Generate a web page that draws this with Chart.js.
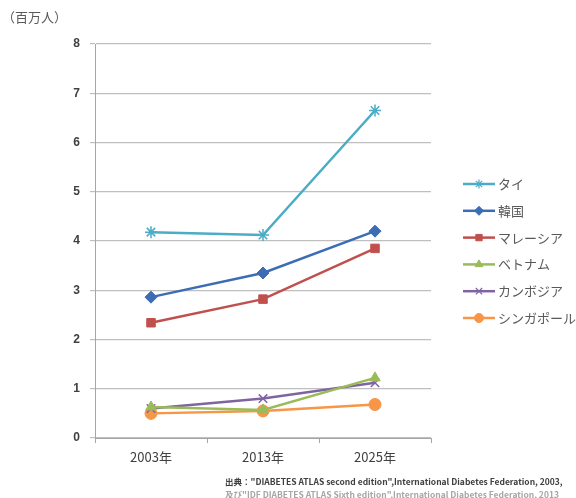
<!DOCTYPE html>
<html>
<head>
<meta charset="utf-8">
<script src="https://cdn.jsdelivr.net/npm/chart.js@4"></script>
<style>
  html, body { margin: 0; padding: 0; background: #fff; }
  #wrap { width: 576px; height: 498px; }
</style>
</head>
<body>
<div id="wrap"><canvas id="chart" width="576" height="498"></canvas></div>
<script>
const years = ['2003年', '2013年', '2025年'];
const yTicks = [0, 1, 2, 3, 4, 5, 6, 7, 8];

const thai = [4.18, 4.12, 6.65];
const korea = [2.86, 3.35, 4.2];
const malaysia = [2.34, 2.82, 3.85];
const vietnam = [0.63, 0.57, 1.22];
const cambodia = [0.6, 0.8, 1.12];
const singapore = [0.5, 0.55, 0.68];

const unitLabel = '（百万人）';
const sourceLines = [
  '出典："DIABETES ATLAS second edition",International Diabetes Federation, 2003,',
  '及び"IDF DIABETES ATLAS Sixth edition",International Diabetes Federation, 2013'
];

const JP = '"Noto Sans CJK JP", "Noto Sans", sans-serif';

const series = [
  { label: 'タイ', data: thai, color: '#4BACC6', style: 'star' },
  { label: '韓国', data: korea, color: '#3C6DB4', style: 'rectRot' },
  { label: 'マレーシア', data: malaysia, color: '#C0504D', style: 'rect' },
  { label: 'ベトナム', data: vietnam, color: '#9BBB59', style: 'triangle' },
  { label: 'カンボジア', data: cambodia, color: '#8064A2', style: 'crossRot' },
  { label: 'シンガポール', data: singapore, color: '#F79646', style: 'circle' }
];

const thinStyles = ['star', 'crossRot'];

// legend (line + marker sample), unit label and source note
const extras = {
  id: 'extras',
  beforeDraw(chart) {
    const ctx = chart.ctx;
    ctx.save();
    ctx.fillStyle = '#fff';
    ctx.fillRect(0, 0, chart.width, chart.height);
    ctx.restore();
  },
  afterDraw(chart) {
    const ctx = chart.ctx;
    ctx.save();
    ctx.textBaseline = 'middle';
    ctx.textAlign = 'left';
    ctx.font = '13px ' + JP;
    ctx.fillStyle = '#595959';
    ctx.fillText(unitLabel, 2, 17);

    chart.data.datasets.forEach((ds, i) => {
      const y = 184 + i * 26.8;
      ctx.strokeStyle = ds.borderColor;
      ctx.fillStyle = ds.borderColor;
      ctx.lineWidth = 2.5;
      ctx.beginPath();
      ctx.moveTo(463, y);
      ctx.lineTo(495, y);
      ctx.stroke();
      const thin = thinStyles.includes(ds.pointStyle);
      ctx.lineWidth = thin ? 1.2 : 1;
      Chart.helpers.drawPoint(ctx, {
        pointStyle: ds.pointStyle,
        rotation: 0,
        borderWidth: ctx.lineWidth,
        radius: 4.5
      }, 479, y);
      ctx.fillStyle = '#595959';
      ctx.font = '13px ' + JP;
      ctx.fillText(ds.label, 498, y);
    });

    ctx.font = '600 8.5px ' + JP;
    ctx.fillStyle = '#404040';
    ctx.fillText(sourceLines[0], 225, 482, 345);
    ctx.fillStyle = '#A6A6A6';
    ctx.fillText(sourceLines[1], 225, 495, 345);
    ctx.restore();
  }
};

const ctx = document.getElementById('chart').getContext('2d');
new Chart(ctx, {
  type: 'line',
  data: {
    labels: years,
    datasets: series.map(s => ({
      label: s.label,
      data: s.data,
      borderColor: s.color,
      backgroundColor: s.color,
      pointStyle: s.style,
      pointRadius: 6,
      pointHoverRadius: 6,
      pointBorderWidth: thinStyles.includes(s.style) ? 1.5 : 1,
      borderWidth: 2.5,
      tension: 0
    }))
  },
  options: {
    responsive: false,
    animation: false,
    events: [],
    layout: { padding: { left: 0, right: 145, top: 44, bottom: 0 } },
    plugins: {
      legend: { display: false },
      tooltip: { enabled: false }
    },
    scales: {
      x: {
        offset: true,
        grid: {
          offset: true,
          drawOnChartArea: false,
          tickLength: 5,
          color: '#A6A6A6'
        },
        border: { color: '#A6A6A6', width: 1 },
        ticks: {
          color: '#404040',
          font: { family: JP, size: 13 },
          padding: 6
        },
        afterFit(scale) { scale.height = 60; }
      },
      y: {
        min: 0,
        max: 8,
        afterBuildTicks(scale) { scale.ticks = yTicks.map(v => ({ value: v })); },
        grid: { color: '#BFBFBF', lineWidth: 1.2, tickLength: 5 },
        border: { color: '#A6A6A6', width: 1 },
        ticks: {
          color: '#404040',
          font: { family: 'Arial, "Liberation Sans", sans-serif', size: 12, weight: 'bold' },
          padding: 10
        },
        afterFit(scale) { scale.width = 95; }
      }
    }
  },
  plugins: [extras]
});
</script>
</body>
</html>
